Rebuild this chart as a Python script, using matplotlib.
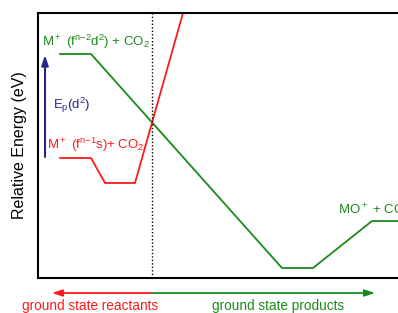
import matplotlib
matplotlib.use("Agg")
import matplotlib.pyplot as plt

plt.rcParams['font.family'] = ['Liberation Sans', 'DejaVu Sans']
plt.rcParams['mathtext.default'] = 'regular'

# reaction coordinate / relative energy (arbitrary units)
green_x = [22, 53, 244, 275, 334, 420]
green_y = [224, 224, 10, 10, 57, 57]
red_x = [22, 53, 67, 97, 145]
red_y = [120, 120, 95, 95, 265]
cross_x = 114
ep_bottom, ep_top = 121, 223

red = '#ff1a1a'
green = '#1a8a1a'
navy = '#24248c'

fig = plt.figure(figsize=(3.98, 3.13), dpi=100)
ax = fig.add_axes([38 / 398, 35 / 313, 420 / 398, 265 / 313])
ax.set_xlim(0, 420)
ax.set_ylim(0, 265)

ax.plot(green_x, green_y, color=green, lw=1.3)
ax.plot(red_x, red_y, color=red, lw=1.3)
ax.axvline(cross_x, color='black', lw=1, ls=(0, (1, 1.5)))

# promotion energy arrow
ax.annotate('', xy=(7, ep_top), xytext=(7, ep_bottom),
            arrowprops=dict(arrowstyle='-|>,head_length=0.6,head_width=0.2',
                            color=navy, lw=1.5, shrinkA=0, shrinkB=0))

ax.text(4, 236, r'M$^+$ (f$^{n{-}2}$d$^2$) + CO$_2$', color=green, fontsize=9.5, va='center')
ax.text(9, 133, r'M$^+$ (f$^{n{-}1}$s)+ CO$_2$', color=red, fontsize=9.5, va='center')
ax.text(15, 173, r'E$_p$(d$^2$)', color=navy, fontsize=9.5, va='center')
ax.text(300, 68, r'MO$^+$ + CO$_2$', color=green, fontsize=9.5, va='center', clip_on=False)

# bottom direction arrows
ax.annotate('', xy=(14, -15), xytext=(cross_x, -15), annotation_clip=False,
            arrowprops=dict(arrowstyle='-|>,head_length=0.6,head_width=0.2',
                            color=red, lw=1.3, shrinkA=0, shrinkB=0))
ax.annotate('', xy=(337, -15), xytext=(cross_x, -15), annotation_clip=False,
            arrowprops=dict(arrowstyle='-|>,head_length=0.6,head_width=0.2',
                            color=green, lw=1.3, shrinkA=0, shrinkB=0))
ax.text(-16, -28, 'ground state reactants', color=red, fontsize=9.8, va='center', clip_on=False)
ax.text(174, -28, 'ground state products', color=green, fontsize=9.8, va='center', clip_on=False)

ax.set_xticks([])
ax.set_yticks([])
for s in ax.spines.values():
    s.set_linewidth(1.5)
    s.set_color('black')
ax.set_ylabel('Relative Energy (eV)', fontsize=11.5, labelpad=8)

fig.savefig('out.png', dpi=100)
